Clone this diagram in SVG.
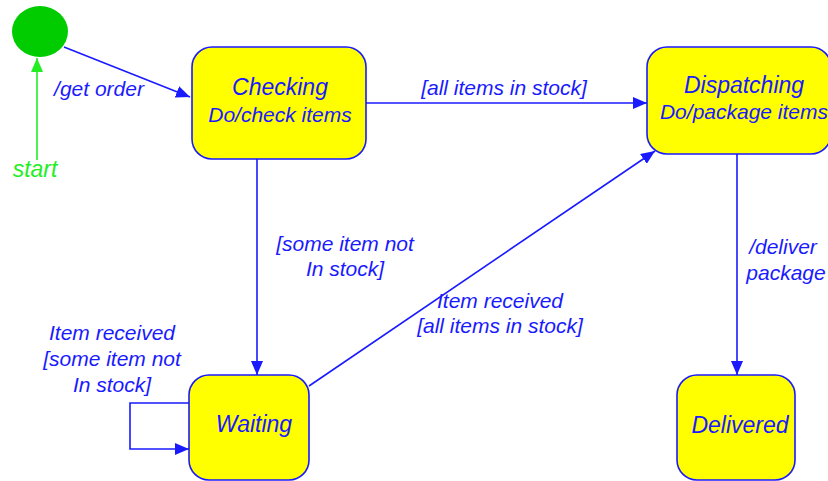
<svg xmlns="http://www.w3.org/2000/svg" width="828" height="481" viewBox="0 0 828 481">
  <defs>
    <marker id="arrow" viewBox="0 0 14 12" refX="14" refY="6" markerWidth="14" markerHeight="12" markerUnits="userSpaceOnUse" orient="auto">
      <path d="M0,0 L14,6 L0,12 Z" fill="#1a1aff"/>
    </marker>
    <marker id="arrow-green" viewBox="0 0 14 12" refX="14" refY="6" markerWidth="14" markerHeight="12" markerUnits="userSpaceOnUse" orient="auto">
      <path d="M0,0 L14,6 L0,12 Z" fill="#22ee22"/>
    </marker>
  </defs>
  <style>
    .state { fill: #ffff00; stroke: #1a1aff; stroke-width: 1.6; }
    .edge { fill: none; stroke: #1a1aff; stroke-width: 1.6; marker-end: url(#arrow); }
    .txt { font-family: "Liberation Sans", Arial, sans-serif; font-style: italic; fill: #1a1aff; text-anchor: middle; }
    .title { font-size: 23px; }
    .sub { font-size: 21px; }
    .lbl { font-size: 21px; }
  </style>
  <rect width="828" height="481" fill="#ffffff"/>

  <g id="connectors">
    <line class="edge" x1="64" y1="47" x2="190" y2="97"/>
    <line class="edge" x1="366" y1="103" x2="647" y2="103"/>
    <line class="edge" x1="257" y1="159" x2="257" y2="375"/>
    <line class="edge" x1="309" y1="386" x2="655" y2="151"/>
    <line class="edge" x1="737" y1="154" x2="737" y2="375"/>
    <polyline class="edge" points="189,403 130,403 130,449 189,449"/>
    <line x1="37" y1="160" x2="37" y2="58" stroke="#22ee22" stroke-width="1.6" marker-end="url(#arrow-green)"/>
    <text class="txt lbl" x="99" y="96">/get order</text>
    <text class="txt lbl" x="504" y="95">[all items in stock]</text>
    <text class="txt lbl" x="345" y="251">[some item not</text>
    <text class="txt lbl" x="345" y="276">In stock]</text>
    <text class="txt lbl" x="500" y="308">Item received</text>
    <text class="txt lbl" x="500" y="333">[all items in stock]</text>
    <text class="txt lbl" x="112" y="340">Item received</text>
    <text class="txt lbl" x="112" y="366">[some item not</text>
    <text class="txt lbl" x="112" y="392">In stock]</text>
    <text class="txt lbl" x="783" y="254">/deliver</text>
    <text class="txt lbl" x="786" y="280">package</text>
    <text x="35" y="177" font-family="Liberation Sans, Arial, sans-serif" font-style="italic" font-size="23" fill="#22ee22" text-anchor="middle">start</text>
  </g>

  <g id="initial">
    <ellipse cx="40" cy="31.5" rx="28" ry="25.5" fill="#00cc00"/>
  </g>

  <g id="checking">
    <rect class="state" x="192" y="47" width="174" height="112" rx="20" ry="20"/>
    <text class="txt title" x="280" y="95">Checking</text>
    <text class="txt sub" x="280" y="122">Do/check items</text>
  </g>

  <g id="dispatching">
    <rect class="state" x="647" y="47" width="184" height="107" rx="20" ry="20"/>
    <text class="txt title" x="744" y="93">Dispatching</text>
    <text class="txt sub" x="744" y="119">Do/package items</text>
  </g>

  <g id="waiting">
    <rect class="state" x="189" y="375" width="120" height="105" rx="20" ry="20"/>
    <text class="txt title" x="254" y="432">Waiting</text>
  </g>

  <g id="delivered">
    <rect class="state" x="677" y="375" width="118" height="105" rx="20" ry="20"/>
    <text class="txt title" x="740" y="433">Delivered</text>
  </g>
</svg>
